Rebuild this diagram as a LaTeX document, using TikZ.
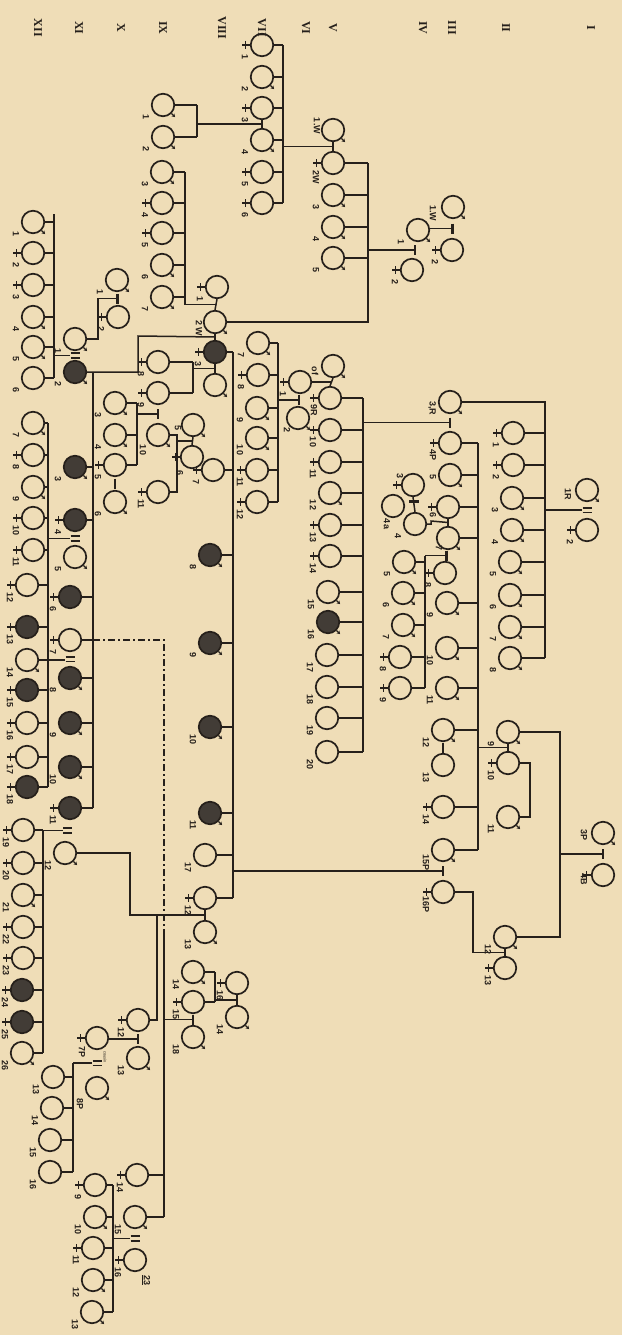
\documentclass[tikz,border=0pt]{standalone}
\usepackage{fontspec}
\setmainfont{Liberation Serif}
\newfontfamily\lblfont{Liberation Sans}
\usetikzlibrary{calc,arrows.meta}
\definecolor{bg}{RGB}{239,221,183}
\definecolor{ink}{RGB}{38,32,27}
\definecolor{affc}{RGB}{66,60,54}
\newcommand\Pers[6][-17,12]{%
  \node[ind,#2] (#3) at (#4) {};%
  \if f#5\draw[sym] (#3.west) -- ++(-8pt,0) (#3.west) ++(-4.5pt,4pt) -- ++(0,-8pt);\fi
  \if m#5\draw[sym,-{Stealth[length=3.2pt,width=3.8pt]}] (#3.-45) -- ++(-45:5pt);\fi
  \node[lbl] (#3-l) at ($(#3)+(#1)$) {#6};}
\newcommand\Mbar[3]{\coordinate (#1) at ($(#2)!.5!(#3)$);\draw[bar] (#1)+(0,-5) -- +(0,5);}
\newcommand\Mdbl[3]{\coordinate (#1) at ($(#2)!.5!(#3)$);\draw[dbl] (#1)+(-4.5,-2.3) -- +(4.5,-2.3) (#1)+(-4.5,2.3) -- +(4.5,2.3);}
\newcommand\Mlink[3]{\coordinate (#1) at ($(#2)!.5!(#3)$);\draw[ln] (#2.south) -- (#3.north);}
\newcommand\Ticks[2]{\foreach \nn in {#2} \draw[ln] (\nn.east) -- (\nn.east -| #1);}
\begin{document}
\begin{tikzpicture}[x=1pt,y=-1pt,
  ind/.style={circle,draw=ink,line width=1.7pt,minimum size=22.5pt,inner sep=0pt},
  aff/.style={fill=affc},
  ln/.style={draw=ink,line width=1.5pt},
  sym/.style={draw=ink,line width=1.3pt},
  bar/.style={draw=ink,line width=2.8pt},
  dbl/.style={draw=ink,line width=1.6pt},
  lbl/.style={rotate=-90,font=\lblfont\bfseries\fontsize{9}{10}\selectfont,text=ink,inner sep=0pt},
  gen/.style={rotate=-90,font=\fontsize{12}{12}\selectfont\bfseries,text=ink,inner sep=0pt}]
\fill[bg] (0,0) rectangle (622,1335);
\useasboundingbox (0,0) rectangle (622,1335);
% generation numerals
\foreach \t/\x [count=\i] in {XII/38,XI/79,X/121,IX/163,VIII/222,VII/262,VI/306,V/333,IV/423,III/452,II/506,I/591}
  \node[gen] (hd\i) at (\x,28) {\t};
% ---------- persons ----------
\Pers[-20,6]{}{a1}{453,207}{m}{1.W}
\Pers{}{a2}{452,250}{f}{2}
\Pers{}{b1}{418,230}{m}{1}
\Pers{}{b2}{412,270}{f}{2}
\Pers[-16,-4]{}{w1}{333,130}{m}{1.W}
\Pers[-17,14]{}{w2}{333,163}{f}{2W}
\Pers{}{A3}{333,195}{m}{3}
\Pers{}{A4}{333,227}{m}{4}
\Pers{}{A5}{333,258}{m}{5}
\Pers[-16,6]{}{W2}{215,322}{m}{2\,W}
\Pers{}{B1}{262,45}{f}{1}
\Pers{}{B2}{262,77}{m}{2}
\Pers{}{B3}{262,108}{f}{3}
\Pers{}{B4}{262,140}{m}{4}
\Pers{}{B5}{262,172}{f}{5}
\Pers{}{B6}{262,203}{f}{6}
\Pers{}{C1}{163,105}{m}{1}
\Pers{}{C2}{163,137}{m}{2}
\Pers{}{D3}{162,172}{m}{3}
\Pers{}{D4}{162,203}{f}{4}
\Pers{}{D5}{162,233}{f}{5}
\Pers{}{D6}{162,265}{m}{6}
\Pers{}{D7}{162,297}{m}{7}
\Pers{}{Pw1}{217,287}{f}{1}
\Pers{}{G1}{117,280}{m}{1}
\Pers{}{G2}{118,317}{f}{2}
\Pers{}{N1}{75,339}{m}{1}
\Pers{aff}{N2}{75,372}{m}{2}
\Pers{}{E1}{33,222}{m}{1}
\Pers{}{E2}{33,253}{f}{2}
\Pers{}{E3}{33,285}{f}{3}
\Pers{}{E4}{33,317}{m}{4}
\Pers{}{E5}{33,347}{m}{5}
\Pers{}{E6}{33,378}{u}{6}
\Pers{aff}{S3}{215,352}{f}{3}
\Pers{}{S4}{215,385}{m}{}
\Pers{aff}{F3}{75,467}{m}{3}
\Pers{aff}{F4}{75,520}{f}{4}
\Pers{}{F5}{75,557}{m}{5}
\Pers{aff}{F6}{70,597}{f}{6}
\Pers{}{F7}{70,640}{f}{7}
\Pers{aff}{F8}{70,678}{m}{8}
\Pers{aff}{F9}{70,723}{m}{9}
\Pers{aff}{F10}{70,767}{m}{10}
\Pers{aff}{F11}{70,808}{f}{11}
\Pers{}{J7}{33,423}{m}{7}
\Pers{}{J8}{33,455}{f}{8}
\Pers{}{J9}{33,487}{m}{9}
\Pers{}{J10}{33,518}{f}{10}
\Pers{}{J11}{33,550}{f}{11}
\Pers{}{J12}{27,585}{f}{12}
\Pers{aff}{J13}{27,627}{f}{13}
\Pers{}{J14}{27,660}{m}{14}
\Pers{aff}{J15}{27,690}{f}{15}
\Pers{}{J16}{27,723}{f}{16}
\Pers{}{J17}{27,757}{f}{17}
\Pers{aff}{J18}{27,787}{f}{18}
\Pers{}{T12}{65,853}{m}{12}
\Pers{}{H19}{23,830}{f}{19}
\Pers{}{H20}{23,863}{f}{20}
\Pers{}{H21}{23,895}{m}{21}
\Pers{}{H22}{23,927}{f}{22}
\Pers{}{H23}{23,958}{f}{23}
\Pers{aff}{H24}{22,990}{f}{24}
\Pers{aff}{H25}{22,1022}{f}{25}
\Pers{}{H26}{22,1053}{m}{26}
\Pers{}{K8}{158,362}{f}{8}
\Pers{}{K9}{158,393}{f}{9}
\Pers[-15,15]{}{K10}{158,435}{m}{10}
\Pers{}{K11}{158,492}{f}{11}
\Pers{}{L3}{115,403}{m}{3}
\Pers{}{L4}{115,435}{m}{4}
\Pers{}{L5}{115,465}{f}{5}
\Pers{}{L6}{115,502}{m}{6}
\Pers[-15,3]{}{S5}{193,425}{m}{5}
\Pers[-12,16]{}{S6}{192,457}{f}{6}
\Pers{}{S7}{213,470}{f}{7}
\Pers{aff}{S8}{210,555}{m}{8}
\Pers{aff}{S9}{210,643}{m}{9}
\Pers{aff}{S10}{210,727}{m}{10}
\Pers{aff}{S11}{210,813}{m}{11}
\Pers{}{S17}{205,855}{u}{17}
\Pers{}{U12}{205,898}{f}{12}
\Pers{}{U13}{205,932}{m}{13}
\Pers{}{V12}{138,1020}{f}{12}
\Pers{}{V13}{138,1058}{m}{13}
\Pers[-15,14]{}{X7}{97,1038}{f}{7P}
\Pers[-17,16]{}{X8}{97,1088}{m}{8P}
\Pers{}{Y13}{53,1077}{u}{13}
\Pers{}{Y14}{52,1108}{u}{14}
\Pers{}{Y15}{50,1140}{u}{15}
\Pers{}{Y16}{50,1172}{u}{16}
\Pers{}{Z14}{137,1175}{f}{14}
\Pers{}{Z15}{135,1217}{m}{15}
\Pers{}{Z16}{135,1260}{f}{16}
\Pers{}{M9}{95,1185}{f}{9}
\Pers{}{M10}{95,1217}{m}{10}
\Pers{}{M11}{93,1248}{f}{11}
\Pers{}{M12}{93,1280}{m}{12}
\Pers{}{M13}{92,1312}{m}{13}
\Pers{}{R14}{193,972}{m}{14}
\Pers{}{R15}{193,1002}{f}{15}
\Pers{}{R18}{193,1037}{m}{18}
\Pers{}{R16}{237,983}{f}{16}
\Pers{}{R14b}{237,1017}{m}{14}
\Pers[-18,5]{}{Qm}{333,366}{m}{of}
\Pers[-16,12]{}{N9}{330,398}{f}{9R}
\Pers{}{O1}{300,382}{f}{1}
\Pers[-11,12]{}{O2}{298,418}{m}{2}
\Pers{}{O7}{258,343}{m}{7}
\Pers{}{O8}{258,375}{f}{8}
\Pers{}{O9}{257,408}{m}{9}
\Pers{}{O10}{257,438}{m}{10}
\Pers{}{O11}{257,470}{f}{11}
\Pers{}{O12}{257,502}{f}{12}
\Pers{}{N10}{330,430}{f}{10}
\Pers{}{N11}{330,462}{f}{11}
\Pers{}{N12}{330,493}{m}{12}
\Pers{}{N13}{330,525}{f}{13}
\Pers{}{N14}{330,556}{f}{14}
\Pers{}{N15}{328,592}{m}{15}
\Pers{aff}{N16}{328,622}{m}{16}
\Pers{}{N17}{327,655}{u}{17}
\Pers{}{N18}{327,687}{u}{18}
\Pers{}{N19}{327,718}{u}{19}
\Pers{}{N20}{327,752}{u}{20}
\Pers[-18,6]{}{RR3}{450,402}{m}{3,R}
\Pers{}{RP4}{450,443}{f}{4P}
\Pers{}{Pa1}{513,433}{f}{1}
\Pers{}{Pa2}{513,465}{f}{2}
\Pers{}{Pa3}{512,498}{m}{3}
\Pers{}{Pa4}{512,530}{m}{4}
\Pers{}{Pa5}{510,562}{m}{5}
\Pers{}{Pa6}{510,595}{m}{6}
\Pers{}{Pa7}{510,627}{m}{7}
\Pers{}{Pa8}{510,658}{m}{8}
\Pers[-19,4]{}{I1}{587,490}{m}{1R}
\Pers{}{I2}{587,530}{f}{2}
\Pers[-17,2]{}{Q5}{450,475}{m}{5}
\Pers[-15,8]{}{Q6}{448,507}{f}{6}
\Pers[-9,10]{}{Q7}{448,538}{m}{7}
\Pers{}{Q8}{445,573}{f}{8}
\Pers{}{Q9}{447,603}{m}{9}
\Pers{}{Q10}{447,648}{m}{10}
\Pers{}{Q11}{447,688}{m}{11}
\Pers{}{Q12}{443,730}{m}{12}
\Pers{}{Q13}{443,765}{u}{13}
\Pers{}{Q14}{443,807}{f}{14}
\Pers{}{Q15}{443,850}{m}{15P}
\Pers{}{Q16}{443,892}{f}{16P}
\Pers[-13,-9]{}{Tc3}{413,485}{f}{3}
\Pers[-6,18]{}{Tc4a}{393,506}{u}{4a}
\Pers{}{Tc4}{415,524}{u}{4}
\Pers{}{Wc5}{404,562}{m}{5}
\Pers{}{Wc6}{403,593}{m}{6}
\Pers{}{Wc7}{403,625}{m}{7}
\Pers{}{Wc8}{400,657}{f}{8}
\Pers{}{Wc9}{400,688}{f}{9}
\Pers{}{Vb9}{508,732}{m}{9}
\Pers{}{Vb10}{508,763}{f}{10}
\Pers{}{Vb11}{508,817}{m}{11}
\Pers[-19,2]{}{g3P}{603,833}{m}{3P}
\Pers[-19,4]{}{g4B}{603,875}{f}{4B}
\Pers{}{Xb12}{505,937}{m}{12}
\Pers{}{Xb13}{505,968}{f}{13}
\node[lbl,font=\lblfont\fontsize{4}{4}\selectfont] (cz) at (105,1057) {cousin};
\node[lbl] (t23) at (146,1280) {\underline{23}};
% ---------- marriages ----------
\Mbar{ma}{a1}{a2}
\coordinate (mb) at ($(b1)!.5!(b2)$);
\draw[bar] (mb)+(0,-5) -- +(0,5);
\Mlink{mw}{w1}{w2}
\Mlink{mB}{B3}{B4}
\Mlink{mP}{Pw1}{W2}
\Mbar{mG}{G1}{G2}
\Mdbl{mN}{N1}{N2}
\Mlink{mW}{W2}{S3}
\Mbar{mS}{S3}{S4}
\Mbar{mK}{K9}{K10}
\Mbar{mL}{L5}{L6}
\Mlink{mS56}{S5}{S6}
\Mdbl{mF}{F4}{F5}
\Mdbl{mF7}{F7}{F8}
\Mdbl{mT}{F11}{T12}
\Mbar{mU}{U12}{U13}
\Mbar{mV}{V12}{V13}
\Mdbl{mX}{X7}{X8}
\Mdbl{mZ}{Z15}{Z16}
\Mbar{mR}{R15}{R18}
\Mbar{mR2}{R16}{R14b}
\Mlink{mQ}{Qm}{N9}
\Mbar{mO}{O1}{O2}
\Mbar{mRR}{RR3}{RP4}
\Mdbl{mI}{I1}{I2}
\Mlink{mQ67}{Q6}{Q7}
\Mbar{mQ78}{Q7}{Q8}
\Mbar{mQ12}{Q12}{Q13}
\Mlink{mTc}{Tc3}{Tc4}
\draw[bar] ($(mTc)+(-5,-3)$) -- ($(mTc)+(5,-3)$);
\Mbar{mV9}{Vb9}{Vb10}
\Mbar{m34}{g3P}{g4B}
\Mbar{mXb}{Xb12}{Xb13}
\Mbar{mQ15}{Q15}{Q16}
% ---------- sibships & descent ----------
\coordinate (sA1) at (368,163); \coordinate (sA2) at (368,322);
\draw[ln] (ma) -- (ma -| b1.east);
\draw[ln] (mb) -- (mb -| sA1);
\draw[ln] (sA1) -- (sA2) -- (W2.east);
\Ticks{sA1}{w2,A3,A4,A5}
\coordinate (sB1) at (283,45); \coordinate (sB2) at (283,203);
\draw[ln] (mw) -- (mw -| sB1);
\draw[ln] (sB1) -- (sB2);
\Ticks{sB1}{B1,B2,B3,B4,B5,B6}
\coordinate (sC1) at (197,105); \coordinate (sC2) at (197,137);
\draw[ln] (sC1) -- (sC2);
\Ticks{sC1}{C1,C2}
\draw[ln] (mB -| sC1) -- (mB);
\coordinate (sD1) at (185,172);
\draw[ln] (sD1) -- (sD1 |- mP) -- (mP);
\Ticks{sD1}{D3,D4,D5,D6,D7}
\draw[ln] (mG) -- (mG -| 98,0) -- (98,339) -- (N1.east);
\coordinate (sE1) at (54,214); \coordinate (sE2) at (54,378);
\draw[ln] (sE1) -- (sE2);
\Ticks{sE1}{E1,E2,E3,E4,E5,E6}
\draw[ln] (mN -| sE1) -- ($(mN)+(-5,0)$);
\draw[ln] (N2.east) -- (138,372) -- (138,336) -- (mW);
\coordinate (sF1) at (93,372); \coordinate (sF2) at (93,808);
\draw[ln] (sF1) -- (sF2);
\Ticks{sF1}{F3,F4,F6,F7,F8,F9,F10,F11}
\coordinate (sJ1) at (48,423); \coordinate (sJ2) at (48,787);
\draw[ln] (sJ1) -- (sJ2);
\Ticks{sJ1}{J7,J8,J9,J10,J11,J12,J13,J14,J15,J16,J17,J18}
\draw[ln] (mF -| sJ1) -- ($(mF)+(-5,0)$);
\draw[ln] (J14.east) -- ($(mF7)+(-5,1)$);
\coordinate (sH1) at (43,830); \coordinate (sH2) at (43,1053);
\draw[ln] (sH1) -- (sH2);
\Ticks{sH1}{H19,H20,H21,H22,H23,H24,H25,H26}
\draw[ln] (mT -| sH1) -- ($(mT)+(-5,0)$);
\coordinate (sK1) at (193,362); \coordinate (sK2) at (193,393);
\draw[ln] (sK1) -- (sK2);
\Ticks{sK1}{K8,K9}
\draw[ln] (mS) -- (mS -| sK1);
\coordinate (sL1) at (137,403); \coordinate (sL2) at (137,465);
\draw[ln] (sL1) -- (sL2);
\Ticks{sL1}{L3,L4,L5}
\draw[ln] (mK -| sL1) -- (mK);
\coordinate (sS1) at (177,435);
\draw[ln] (K10.east) -- (sS1) -- (sS1 |- K11) -- (K11.east);
\draw[ln] (mS56) -- (mS56 -| sS1);
\coordinate (sI1) at (233,352); \coordinate (sI2) at (233,898);
\draw[ln] (sI1) -- (sI2);
\Ticks{sI1}{S3,S7,S8,S9,S10,S11,S17,U12}
\draw[ln] (mQ15) -- (mQ15 -| sI1);
\draw[ln] (T12.east) -- (130,853) -- (130,915) -- (mU);
\draw[ln] (157,915) -- (157,1020) -- (V12.east);
\draw[ln] (mV) -- (mV -| X7.east);
\coordinate (sY1) at (73,1063); \coordinate (sY2) at (73,1172);
\draw[ln] (sY1) -- (sY2);
\Ticks{sY1}{Y13,Y14,Y15,Y16}
\draw[ln] (sY1) -- ($(mX)+(-5,0)$);
\coordinate (dz1) at (164,640); \coordinate (dz2) at (164,935); \coordinate (dz3) at (164,1217);
\draw[ln,dash pattern=on 7pt off 3pt on 2pt off 3pt] (F7.east -| sF1) -- (dz1) -- (dz2);
\draw[ln] (dz2) -- (dz3);
\Ticks{dz1}{Z14,Z15}
\draw[ln] (mR -| dz1) -- (mR);
\coordinate (sR1) at (215,972);
\draw[ln] (sR1) -- (sR1 |- R15);
\Ticks{sR1}{R14,R15}
\draw[ln] (mR2 -| sR1) -- (mR2);
\coordinate (sM1) at (113,1185); \coordinate (sM2) at (113,1312);
\draw[ln] (sM1) -- (sM2);
\Ticks{sM1}{M9,M10,M11,M12,M13}
\draw[ln] (mZ -| sM1) -- ($(mZ)+(-5,0)$);
\draw[ln] (O1.east) -- (O1.east -| mQ);
\coordinate (sO1) at (278,343); \coordinate (sO2) at (278,502);
\draw[ln] (sO1) -- (sO2);
\Ticks{sO1}{O7,O8,O9,O10,O11,O12}
\draw[ln] (mO) -- (mO -| sO1);
\coordinate (sN1) at (363,398); \coordinate (sN2) at (363,752);
\draw[ln] (sN1) -- (sN2);
\Ticks{sN1}{N9,N10,N11,N12,N13,N14,N15,N16,N17,N18,N19,N20}
\draw[ln] (mRR) -- (mRR -| sN1);
\coordinate (sP1) at (545,402); \coordinate (sP2) at (545,658);
\draw[ln] (RR3.east) -- (sP1) -- (sP2);
\Ticks{sP1}{Pa1,Pa2,Pa3,Pa4,Pa5,Pa6,Pa7,Pa8}
\draw[ln] (mI -| sP1) -- ($(mI)+(-5,0)$);
\coordinate (sQ1) at (478,443); \coordinate (sQ2) at (478,850);
\draw[ln] (sQ1) -- (sQ2);
\Ticks{sQ1}{RP4,Q5,Q6,Q7,Q9,Q10,Q11,Q12,Q14,Q15}
\draw[ln] (Tc4.east) -- (431,524) -- (431,521) -- (mQ67);
\coordinate (sW1) at (425,556); \coordinate (sW2) at (425,688);
\draw[ln] (sW1) -- (sW2);
\Ticks{sW1}{Wc5,Wc6,Wc7,Wc8,Wc9}
\draw[ln] (mQ78) -- (mQ78 -| sW1);
\draw[ln] (mV9 -| sQ1) -- (mV9);
\draw[ln] (Vb10.east) -- (530,763) -- (530,817) -- (Vb11.east);
\coordinate (sX1) at (560,732); \coordinate (sX2) at (560,937);
\draw[ln] (Vb9.east) -- (sX1) -- (sX2) -- (Xb12.east);
\draw[ln] (m34 -| sX1) -- (m34);
\draw[ln] (mXb) -- (473,952.5) -- (473,892) -- (Q16.east);
\end{tikzpicture}
\end{document}
